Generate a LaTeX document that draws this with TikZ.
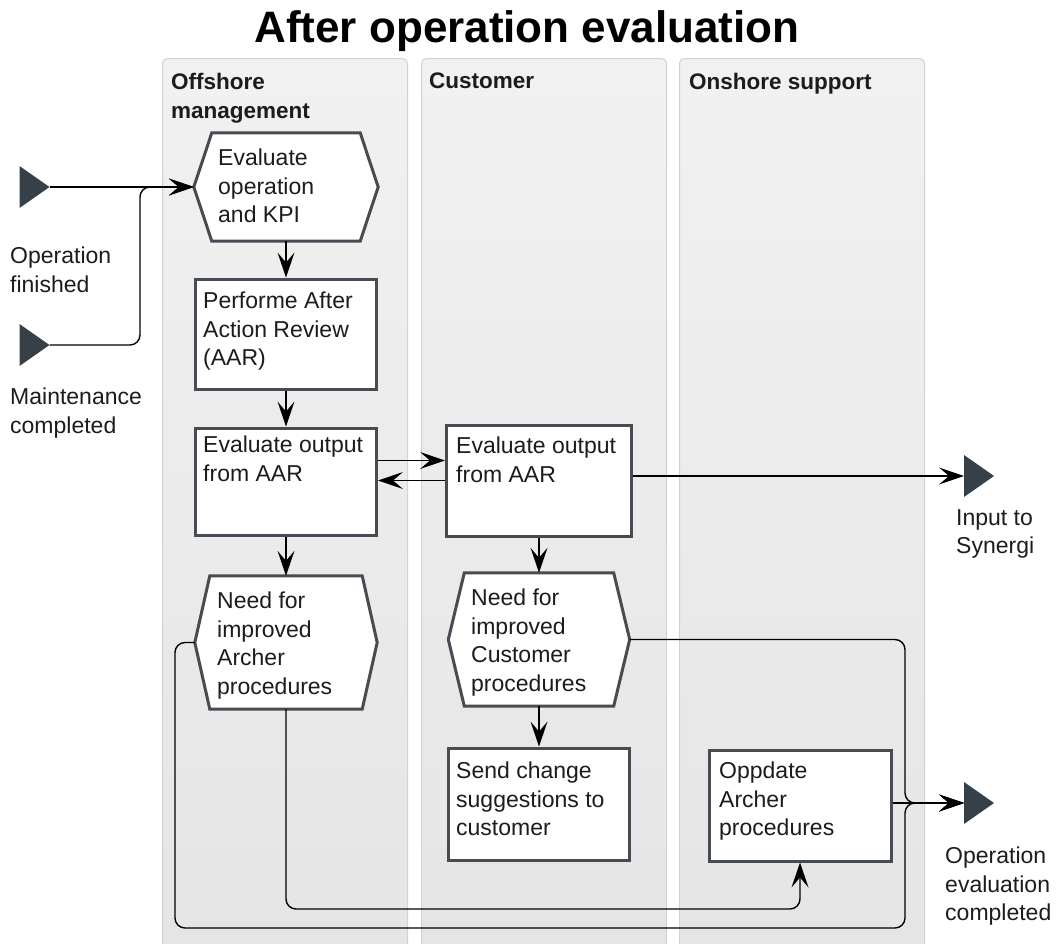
\documentclass[tikz,border=0pt]{standalone}
\usepackage{fontspec}
\setmainfont{Liberation Sans}
\usetikzlibrary{arrows.meta}

\definecolor{laneTop}{HTML}{F1F1F1}
\definecolor{laneBot}{HTML}{E5E5E5}
\definecolor{laneEdge}{HTML}{D2D2D2}
\definecolor{boxEdge}{HTML}{474C52}
\definecolor{triFill}{HTML}{373F47}
\definecolor{ink}{HTML}{1C1C1C}

\newcommand\hexoutline[2]{%
  \draw[hexline] (#1.west) -- ([xshift=#2]#1.north west) -- ([xshift=-#2]#1.north east)
    -- (#1.east) -- ([xshift=-#2]#1.south east) -- ([xshift=#2]#1.south west) -- cycle;}

\tikzset{flowtip/.tip={Stealth[length=25pt,width=17pt,inset=10pt,line width=0pt]}}

\begin{document}
\begin{tikzpicture}[x=1pt,y=-1pt,
  lane/.style={draw=laneEdge, line width=1pt, rounded corners=5pt,
    top color=laneTop, bottom color=laneBot, minimum width=245pt,
    minimum height=900pt, anchor=north west, inner sep=0pt},
  lanehead/.style={anchor=north west, inner sep=0pt, align=left, text=ink,
    font=\bfseries\fontsize{22.5}{28.5}\selectfont},
  txt/.style={anchor=north west, inner sep=0pt, align=left, text=ink,
    font=\fontsize{23}{28.5}\selectfont},
  taskbox/.style={draw=boxEdge, line width=3pt, fill=white, inner sep=0pt,
    minimum width=181pt, minimum height=110pt},
  hexarea/.style={inner sep=0pt, minimum width=182pt, minimum height=133pt},
  hexline/.style={draw=boxEdge, line width=3pt, fill=white, line join=miter},
  endpoint/.style={inner sep=0pt, outer sep=0pt, minimum width=30pt, minimum height=42pt,
    path picture={\fill[triFill] (path picture bounding box.north west)
      -- (path picture bounding box.east) -- (path picture bounding box.south west) -- cycle;}},
  flow/.style={line width=1.4pt, draw=black, arrows={-flowtip}}
]
\useasboundingbox (0,0) rectangle (1057,943);
\clip (0,0) rectangle (1057,943);
\fill[white] (0,0) rectangle (1057,943);

% title
\node[font=\bfseries\fontsize{44}{50}\selectfont, text=black] (title) at (527,31) {After operation evaluation};

% swimlanes
\node[lane] (laneOff) at (162,58) {};
\node[lane] (laneCus) at (421,58) {};
\node[lane] (laneOn)  at (679,58) {};
\node[lanehead] (hdOff) at (171,73) {Offshore\\management};
\node[lanehead] (hdCus) at (429,73) {Customer};
\node[lanehead] (hdOn)  at (689,73) {Onshore support};

% routing helpers
\coordinate (mx) at (140,0);
\coordinate (lx) at (175,0);
\coordinate (jx) at (905,0);
\coordinate (lowA) at (0,909);
\coordinate (lowB) at (0,928);

% start and end events
\node[endpoint] (t1) at (34.5,187) {};
\node[endpoint] (t2) at (34.5,345) {};
\node[endpoint] (t3) at (979,476) {};
\node[endpoint] (t4) at (979,803) {};
\node[txt] (l1) at (10,247) {Operation\\finished};
\node[txt] (l2) at (10,388) {Maintenance\\completed};
\node[txt] (l3) at (956,509) {Input to\\Synergi};
\node[txt] (l4) at (945,847) {Operation\\evaluation\\completed};

% offshore management
\node[hexarea, minimum width=184pt, minimum height=108pt] (h1) at (286,187) {};
\hexoutline{h1}{18pt}
\node[txt] (h1t) at (218,149) {Evaluate\\operation\\and KPI};

\node[taskbox] (b2) at (286,334) {};
\node[txt] (b2t) at (203,292) {Performe After\\Action Review\\(AAR)};

\node[taskbox, minimum height=107pt] (b3) at (286,481.5) {};
\node[txt] (b3t) at (203,436) {Evaluate output\\from AAR};

\node[hexarea] (h4) at (286,642.5) {};
\hexoutline{h4}{15pt}
\node[txt] (h4t) at (217,592) {Need for\\improved\\Archer\\procedures};

% customer
\node[taskbox, minimum width=185pt, minimum height=111pt] (cb) at (539,480.5) {};
\node[txt] (cbt) at (456,437) {Evaluate output\\from AAR};

\node[hexarea, minimum width=181pt] (hc) at (539,639.5) {};
\hexoutline{hc}{16pt}
\node[txt] (hct) at (471,589) {Need for\\improved\\Customer\\procedures};

\node[taskbox, minimum height=112pt] (sc) at (539,804) {};
\node[txt] (sct) at (456,762) {Send change\\suggestions to\\customer};

% onshore support
\node[taskbox, minimum width=182pt, minimum height=111pt] (up) at (800,805.5) {};
\node[txt] (upt) at (719,762) {Oppdate\\Archer\\procedures};

% connectors
\draw[flow] (t1.east) -- (h1.west);
\draw[flow, rounded corners=10pt] (t2.east) -| (mx |- h1.west) -- (h1.west);
\draw[flow] (h1.south) -- (b2.north);
\draw[flow] (b2.south) -- (b3.north);
\draw[flow] (b3.south) -- (h4.north);
\draw[flow] ([yshift=21pt]b3.east) -- ([yshift=21pt]b3.east -| cb.west);
\draw[flow] (cb.west) -- (cb.west -| b3.east);
\draw[flow] (t3.west -| cb.east) -- (t3.west);
\draw[flow] (cb.south) -- (hc.north);
\draw[flow] (hc.south) -- (sc.north);
\draw[flow, rounded corners=10pt] (hc.east) -| (jx |- t4.west) -- (t4.west);
\draw[flow] (t4.west -| up.east) -- (t4.west);
\draw[flow, rounded corners=10pt] (h4.west) -| (lx |- lowB) -| (jx |- t4.west) -- (t4.west);
\draw[flow, rounded corners=10pt] (h4.south) |- (up.south |- lowA) -- (up.south);
\end{tikzpicture}
\end{document}
